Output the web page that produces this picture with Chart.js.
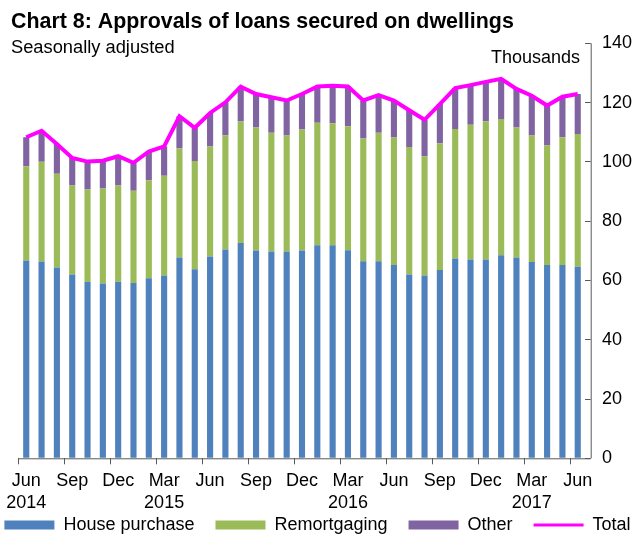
<!DOCTYPE html>
<html>
<head>
<meta charset="utf-8">
<script src="https://cdn.jsdelivr.net/npm/chart.js@4"></script>
<style>
  html, body { margin: 0; padding: 0; background: #fff; }
  #wrap { width: 635px; height: 534px; }
</style>
</head>
<body>
<div id="wrap"><canvas id="mycanvas" width="635" height="534"></canvas></div>
<script>
// monthly approvals, thousands, Jun 2014 - Jun 2017
var months = ['Jun 2014','Jul 2014','Aug 2014','Sep 2014','Oct 2014','Nov 2014','Dec 2014',
	'Jan 2015','Feb 2015','Mar 2015','Apr 2015','May 2015','Jun 2015','Jul 2015','Aug 2015','Sep 2015','Oct 2015','Nov 2015','Dec 2015',
	'Jan 2016','Feb 2016','Mar 2016','Apr 2016','May 2016','Jun 2016','Jul 2016','Aug 2016','Sep 2016','Oct 2016','Nov 2016','Dec 2016',
	'Jan 2017','Feb 2017','Mar 2017','Apr 2017','May 2017','Jun 2017'];

var housePurchase = [66.7,66.4,64.4,62.0,59.5,59.0,59.6,59.1,60.7,61.7,
	67.7,63.8,68.1,70.4,72.6,70.1,69.8,69.8,70.1,71.9,
	71.9,70.2,66.5,66.5,65.2,62.0,61.7,63.5,67.4,67.1,
	67.1,68.5,67.7,66.2,65.2,65.2,64.6];

var remortgaging = [31.8,33.6,31.6,30.0,31.2,32.0,32.4,31.2,33.1,33.6,
	36.8,36.5,37.1,38.6,41.0,41.5,40.0,39.1,40.8,41.3,
	41.1,41.8,41.4,43.3,43.0,43.0,40.2,42.8,43.7,45.4,
	46.6,46.0,43.9,42.7,40.3,43.1,44.8];

var other = [9.8,10.5,10.0,9.3,9.4,9.4,9.9,9.4,9.7,9.9,
	10.9,11.2,11.3,11.1,11.8,11.3,12.0,11.8,12.0,12.2,
	12.7,13.4,12.8,12.7,12.5,12.4,12.3,13.2,13.8,13.4,
	13.3,13.5,13.0,13.4,13.5,13.7,13.5];

var total = [108.3,110.5,106.0,101.3,100.1,100.4,101.9,99.7,103.5,105.2,
	115.4,111.5,116.5,120.1,125.4,122.9,121.8,120.7,122.9,125.4,
	125.7,125.4,120.7,122.5,120.7,117.4,114.2,119.5,124.9,125.9,
	127.0,128.0,124.6,122.3,119.0,122.0,122.9];

// one label every third month
var tickLabels = [['Jun','2014'],'Sep','Dec',['Mar','2015'],'Jun','Sep','Dec',['Mar','2016'],'Jun','Sep','Dec',['Mar','2017'],'Jun'];

var yTicks = [0,20,40,60,80,100,120,140];

var axisColor = '#595959';
var FONT = "'Liberation Sans', Arial, sans-serif";

Chart.defaults.font.family = FONT;
Chart.defaults.font.size = 18;
Chart.defaults.color = '#000';

// axis lines + headings
var extras = {
	id: 'extras',
	afterDraw: function(chart) {
		var ctx = chart.ctx;
		var a = chart.chartArea;
		var axisX = a.right + 5.3;
		ctx.save();
		ctx.strokeStyle = axisColor;
		ctx.lineWidth = 1;
		ctx.beginPath();
		ctx.moveTo(a.left, a.bottom + 0.5);
		ctx.lineTo(axisX, a.bottom + 0.5);
		ctx.moveTo(axisX + 0.5, a.top);
		ctx.lineTo(axisX + 0.5, a.bottom);
		ctx.stroke();

		ctx.fillStyle = '#000';
		ctx.textBaseline = 'alphabetic';
		ctx.textAlign = 'left';
		ctx.font = "bold 21.4px " + FONT;
		ctx.fillText('Chart 8: Approvals of loans secured on dwellings', 11, 28.3);
		ctx.font = "18.3px " + FONT;
		ctx.fillText('Seasonally adjusted', 11, 53.3);
		ctx.font = "18px " + FONT;
		ctx.textAlign = 'right';
		ctx.fillText('Thousands', 580, 63.3);
		ctx.restore();
	}
};

var chartdata = {
	labels: months,
	datasets: [
		{
			label: 'House purchase',
			data: housePurchase,
			backgroundColor: '#4F81BD',
			borderWidth: 0,
			stack: 'bars',
			order: 1
		},
		{
			label: 'Remortgaging',
			data: remortgaging,
			backgroundColor: '#9BBB59',
			borderWidth: 0,
			stack: 'bars',
			order: 1
		},
		{
			label: 'Other',
			data: other,
			backgroundColor: '#8064A2',
			borderWidth: 0,
			stack: 'bars',
			order: 1
		},
		{
			type: 'line',
			label: 'Total',
			data: total,
			borderColor: '#FF00FF',
			backgroundColor: '#FF00FF',
			borderWidth: 4,
			pointRadius: 0,
			tension: 0,
			stack: 'total',
			order: 0
		}
	]
};

var ctx = document.getElementById('mycanvas');

var barGraph = new Chart(ctx, {
	type: 'bar',
	data: chartdata,
	plugins: [extras],
	options: {
		responsive: false,
		animation: false,
		layout: { padding: { top: 43.3, left: 0, right: 0, bottom: -10 } },
		datasets: {
			bar: { categoryPercentage: 1, barPercentage: 0.4 }
		},
		scales: {
			x: {
				stacked: true,
				offset: true,
				grid: {
					offset: true,
					drawOnChartArea: false,
					tickLength: 6,
					color: function(c) { return c.index % 3 === 0 ? axisColor : 'rgba(0,0,0,0)'; }
				},
				border: { display: false },
				ticks: {
					autoSkip: false,
					maxRotation: 0,
					minRotation: 0,
					padding: 6,
					font: { size: 18 },
					callback: function(val, i) { return i % 3 === 0 ? tickLabels[i / 3] : ''; }
				},
				afterFit: function(scale) { scale.height = 56.7; }
			},
			y: {
				stacked: true,
				position: 'right',
				min: 0,
				max: 140,
				afterBuildTicks: function(scale) { scale.ticks = yTicks.map(function(v) { return { value: v }; }); },
				grid: {
					drawOnChartArea: false,
					tickLength: 5.3,
					color: axisColor
				},
				border: { display: false },
				ticks: { padding: 11.3, font: { size: 18 } },
				afterFit: function(scale) { scale.width = 49.6; }
			},
			yl: {
				position: 'left',
				display: true,
				grid: { display: false },
				border: { display: false },
				ticks: { display: false },
				afterFit: function(scale) { scale.width = 17.3; }
			}
		},
		plugins: {
			tooltip: { enabled: false },
			legend: {
				display: true,
				position: 'bottom',
				labels: {
					usePointStyle: true,
					pointStyleWidth: 50,
					boxWidth: 50,
					boxHeight: 9,
					padding: 1,
					font: { size: 18 },
					color: '#000',
					sort: function(a, b) { return a.datasetIndex - b.datasetIndex; },
					generateLabels: function(chart) {
						var items = Chart.defaults.plugins.legend.labels.generateLabels(chart);
						items.forEach(function(it) {
							if (it.datasetIndex === 3) {
								it.pointStyle = 'line';
								it.lineWidth = 3;
							} else {
								it.pointStyle = 'rect';
								it.text = it.text + '    ';
							}
						});
						return items;
					}
				}
			}
		}
	}
});
</script>
</body>
</html>
